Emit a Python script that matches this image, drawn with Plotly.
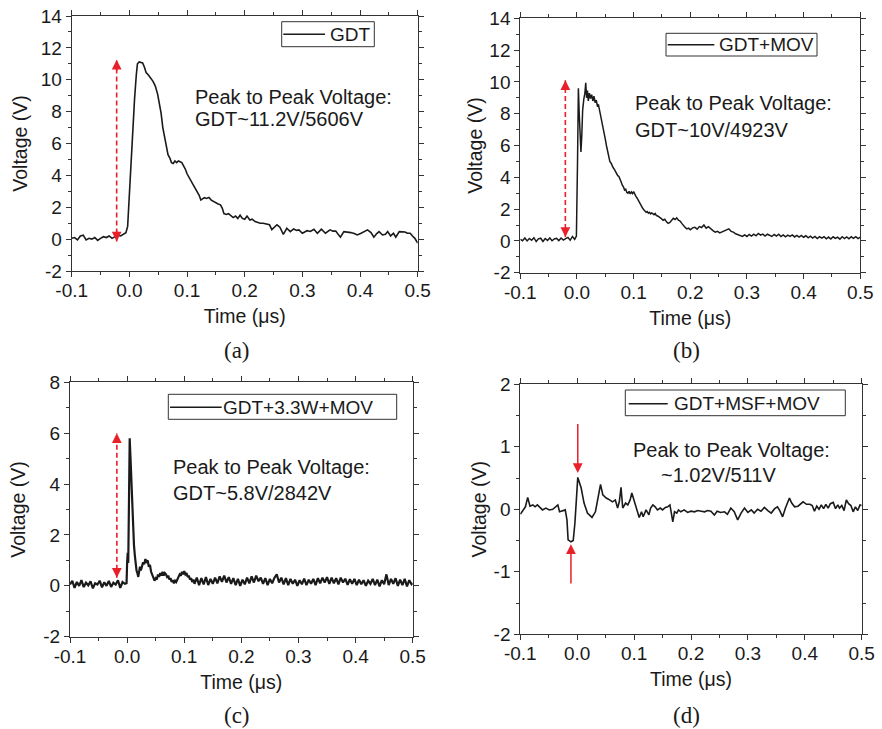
import plotly.graph_objects as go

# ---------------- data ----------------
a_time = [-0.100,-0.095,-0.090,-0.085,-0.080,-0.075,-0.070,-0.065,-0.060,-0.055,
          -0.050,-0.045,-0.040,-0.035,-0.030,-0.025,-0.020,-0.015,-0.010,-0.006,
          -0.003,0.000,0.003,0.006,0.009,0.012,0.014,0.017,0.020,0.023,
          0.026,0.029,0.033,0.037,0.041,0.045,0.049,0.052,0.055,0.058,
          0.061,0.064,0.067,0.070,0.073,0.076,0.079,0.082,0.085,0.088,
          0.091,0.094,0.097,0.100,0.103,0.106,0.109,0.112,0.115,0.118,
          0.121,0.124,0.127,0.130,0.134,0.138,0.142,0.146,0.150,0.154,
          0.158,0.161,0.164,0.168,0.172,0.176,0.180,0.184,0.188,0.192,
          0.196,0.200,0.204,0.209,0.213,0.218,0.222,0.227,0.232,0.238,
          0.243,0.247,0.251,0.256,0.261,0.267,0.273,0.279,0.285,0.290,
          0.294,0.300,0.304,0.308,0.314,0.320,0.326,0.333,0.340,0.348,
          0.353,0.358,0.362,0.366,0.372,0.378,0.384,0.390,0.395,0.401,
          0.407,0.413,0.419,0.424,0.429,0.433,0.439,0.444,0.448,0.453,
          0.458,0.462,0.468,0.474,0.478,0.482,0.487,0.491,0.495,0.500]
a_volt = [0.05,0.10,-0.05,0.20,0.25,-0.05,0.05,0.00,0.10,-0.08,
          0.05,0.15,0.10,0.20,0.05,0.15,0.25,0.20,0.30,0.40,
          0.80,2.80,5.20,7.20,8.80,10.30,11.00,11.12,11.10,11.05,
          10.80,10.45,10.30,10.10,9.90,9.60,9.10,8.50,7.90,7.00,
          6.40,5.80,5.30,5.10,4.80,4.75,4.90,4.80,4.90,4.85,
          4.80,4.60,4.40,4.10,3.90,3.70,3.50,3.30,3.10,2.90,
          2.75,2.45,2.50,2.60,2.55,2.62,2.45,2.35,2.30,2.20,
          2.15,1.95,1.60,1.55,1.60,1.45,1.35,1.45,1.30,1.50,
          1.30,1.25,1.45,1.20,1.25,1.10,1.05,1.00,1.00,0.95,
          0.90,0.60,0.75,0.90,0.75,0.30,0.68,0.47,0.64,0.55,
          0.58,0.37,0.45,0.53,0.48,0.62,0.37,0.62,0.37,0.58,
          0.50,0.51,0.30,0.12,0.47,0.45,0.41,0.35,0.26,0.35,
          0.47,0.58,0.41,0.12,0.35,0.47,0.26,0.30,0.47,0.20,
          0.37,0.12,0.47,0.47,0.45,0.37,0.37,0.20,0.05,-0.25]

b_time = [-0.100,-0.096,-0.092,-0.088,-0.084,-0.080,-0.076,-0.072,-0.068,-0.064,
          -0.060,-0.056,-0.052,-0.048,-0.044,-0.040,-0.036,-0.032,-0.028,-0.024,
          -0.020,-0.016,-0.012,-0.008,-0.004,-0.001,0.001,0.0025,0.004,0.0055,
          0.007,0.0085,0.010,0.012,0.014,0.0155,0.017,0.0185,0.020,0.022,
          0.024,0.026,0.028,0.030,0.032,0.034,0.036,0.038,0.040,0.042,
          0.044,0.046,0.048,0.050,0.052,0.054,0.056,0.058,0.060,0.062,
          0.064,0.066,0.068,0.070,0.072,0.074,0.076,0.078,0.080,0.082,
          0.084,0.086,0.088,0.090,0.092,0.094,0.096,0.098,0.100,0.102,
          0.104,0.106,0.108,0.110,0.112,0.114,0.116,0.118,0.120,0.122,
          0.124,0.126,0.128,0.130,0.132,0.134,0.136,0.138,0.140,0.143,
          0.146,0.149,0.152,0.155,0.158,0.161,0.164,0.167,0.170,0.173,
          0.176,0.179,0.182,0.185,0.188,0.191,0.194,0.197,0.200,0.204,
          0.208,0.212,0.216,0.220,0.224,0.228,0.232,0.236,0.240,0.244,
          0.248,0.252,0.256,0.260,0.264,0.268,0.272,0.276,0.280,0.284,
          0.288,0.292,0.296,0.300,0.304,0.308,0.312,0.316,0.320,0.324,
          0.328,0.332,0.336,0.340,0.344,0.348,0.352,0.356,0.360,0.364,
          0.368,0.372,0.376,0.380,0.384,0.388,0.392,0.396,0.400,0.404,
          0.408,0.412,0.416,0.420,0.424,0.428,0.432,0.436,0.440,0.444,
          0.448,0.452,0.456,0.460,0.464,0.468,0.472,0.476,0.480,0.484,
          0.488,0.492,0.496,0.500]
b_volt = [0.10,0.01,0.18,0.00,0.15,0.04,0.20,-0.04,0.13,0.17,
          -0.03,0.15,0.03,0.19,0.01,0.12,0.16,0.02,0.18,0.05,
          0.14,0.22,0.04,0.28,0.10,0.30,5.00,9.60,8.00,6.20,
          5.60,6.60,8.20,8.90,9.30,9.95,9.00,9.45,8.80,9.30,
          8.95,9.20,8.80,9.10,8.70,8.85,8.50,8.55,8.20,8.00,
          7.60,7.20,6.80,6.40,6.00,5.60,5.30,5.00,4.90,4.70,
          4.60,4.50,4.35,4.25,4.10,4.05,3.80,3.70,3.50,3.40,
          3.20,3.25,3.05,3.00,3.12,2.95,3.08,2.98,3.10,2.90,
          2.80,2.70,2.55,2.40,2.30,2.15,2.05,1.95,1.88,1.80,
          1.85,1.74,1.80,1.70,1.76,1.68,1.65,1.72,1.60,1.55,
          1.50,1.40,1.30,1.36,1.20,1.10,1.16,1.30,1.42,1.35,
          1.45,1.30,1.25,1.10,0.95,0.85,0.75,0.80,0.70,0.82,
          0.86,0.74,0.90,0.84,1.00,0.80,0.90,0.74,0.65,0.55,
          0.60,0.50,0.56,0.62,0.70,0.76,0.60,0.55,0.45,0.40,
          0.35,0.28,0.38,0.28,0.40,0.30,0.42,0.32,0.47,0.36,
          0.43,0.31,0.42,0.33,0.28,0.40,0.30,0.42,0.27,0.38,
          0.26,0.36,0.28,0.38,0.25,0.35,0.24,0.34,0.23,0.32,
          0.19,0.30,0.18,0.28,0.15,0.27,0.18,0.26,0.13,0.24,
          0.12,0.26,0.16,0.24,0.11,0.26,0.15,0.25,0.13,0.26,
          0.16,0.27,0.15,0.24]

c_time = [-0.100,-0.096,-0.092,-0.088,-0.084,-0.080,-0.076,-0.072,-0.068,-0.064,
          -0.060,-0.056,-0.052,-0.048,-0.044,-0.040,-0.036,-0.032,-0.028,-0.024,
          -0.020,-0.016,-0.012,-0.008,-0.004,-0.001,0.000,0.001,0.002,0.003,
          0.0045,0.006,0.0075,0.009,0.0105,0.012,0.0135,0.015,0.0165,0.018,
          0.0195,0.021,0.0225,0.024,0.026,0.028,0.030,0.032,0.034,0.036,
          0.038,0.040,0.042,0.044,0.046,0.048,0.050,0.052,0.054,0.056,
          0.058,0.060,0.062,0.064,0.066,0.068,0.070,0.072,0.074,0.076,
          0.078,0.080,0.082,0.084,0.086,0.088,0.090,0.092,0.094,0.096,
          0.098,0.100,0.102,0.104,0.106,0.108,0.110,0.112,0.114,0.116,
          0.118,0.122,0.126,0.130,0.134,0.138,0.142,0.146,0.150,0.154,
          0.158,0.162,0.166,0.170,0.174,0.178,0.182,0.186,0.190,0.194,
          0.198,0.202,0.206,0.210,0.214,0.218,0.222,0.226,0.230,0.234,
          0.238,0.242,0.246,0.250,0.254,0.258,0.262,0.266,0.270,0.274,
          0.278,0.282,0.286,0.290,0.294,0.298,0.302,0.306,0.310,0.314,
          0.318,0.322,0.326,0.330,0.334,0.338,0.342,0.346,0.350,0.354,
          0.358,0.362,0.366,0.370,0.374,0.378,0.382,0.386,0.390,0.394,
          0.398,0.402,0.406,0.410,0.414,0.418,0.422,0.426,0.430,0.434,
          0.438,0.442,0.446,0.450,0.454,0.458,0.462,0.466,0.470,0.474,
          0.478,0.482,0.486,0.490,0.494,0.498,0.500]
c_volt = [0.05,0.20,-0.08,0.15,0.00,0.22,-0.05,0.12,0.02,0.18,
          -0.10,0.10,0.05,0.20,-0.06,0.14,0.00,0.19,-0.04,0.12,
          0.05,0.22,-0.08,0.15,0.08,0.10,0.90,1.30,0.90,3.00,
          5.80,5.00,4.00,3.20,2.30,1.60,1.20,0.85,0.60,0.50,
          0.35,0.55,0.75,0.60,0.82,0.92,0.85,1.05,0.95,1.00,
          0.75,0.82,0.55,0.45,0.30,0.20,0.30,0.25,0.45,0.35,
          0.50,0.40,0.55,0.40,0.50,0.45,0.35,0.40,0.25,0.30,
          0.15,0.22,0.10,0.20,0.15,0.30,0.35,0.45,0.40,0.55,
          0.45,0.58,0.45,0.50,0.35,0.40,0.25,0.30,0.15,0.25,
          0.08,0.32,0.03,0.30,0.06,0.34,0.03,0.27,0.08,0.32,
          0.10,0.37,0.16,0.40,0.13,0.34,0.08,0.30,0.03,0.27,
          0.00,0.24,0.06,0.32,0.10,0.37,0.13,0.40,0.18,0.32,
          0.08,0.30,0.03,0.27,0.10,0.32,0.45,0.13,0.32,0.06,
          0.30,0.03,0.27,0.08,0.24,0.00,0.22,0.06,0.28,0.03,
          0.24,0.08,0.27,0.03,0.30,0.10,0.32,0.13,0.34,0.08,
          0.32,0.10,0.30,0.06,0.32,0.13,0.28,0.04,0.26,0.08,
          0.27,0.03,0.24,0.06,0.22,0.00,0.20,0.08,0.27,0.03,
          0.24,-0.02,0.22,0.06,0.45,0.03,0.27,0.08,0.30,0.00,
          0.24,0.03,0.27,-0.02,0.22,0.06,0.10]

d_time = [-0.100,-0.095,-0.091,-0.087,-0.083,-0.078,-0.074,-0.070,-0.065,-0.061,
          -0.055,-0.049,-0.043,-0.037,-0.034,-0.031,-0.026,-0.021,-0.018,-0.016,
          -0.011,-0.007,-0.004,0.001,0.007,0.012,0.018,0.026,0.032,0.038,
          0.041,0.045,0.051,0.057,0.062,0.067,0.071,0.074,0.077,0.080,
          0.085,0.089,0.093,0.096,0.100,0.105,0.109,0.113,0.116,0.121,
          0.126,0.129,0.133,0.137,0.141,0.146,0.150,0.155,0.159,0.163,
          0.168,0.171,0.175,0.178,0.182,0.188,0.194,0.200,0.206,0.212,
          0.218,0.224,0.229,0.235,0.241,0.246,0.252,0.259,0.264,0.270,
          0.276,0.282,0.288,0.294,0.300,0.306,0.311,0.317,0.323,0.329,
          0.335,0.341,0.347,0.352,0.356,0.361,0.366,0.370,0.373,0.377,
          0.382,0.388,0.393,0.397,0.403,0.409,0.413,0.417,0.421,0.425,
          0.429,0.433,0.437,0.441,0.445,0.450,0.454,0.458,0.461,0.465,
          0.469,0.473,0.477,0.481,0.485,0.489,0.493,0.497,0.500]
d_volt = [-0.08,-0.02,0.04,0.19,0.05,0.07,0.04,0.07,0.02,-0.01,
          0.02,-0.01,0.00,0.04,0.07,-0.04,-0.02,-0.01,-0.17,-0.49,
          -0.52,-0.50,-0.22,0.51,0.34,0.10,-0.06,-0.13,-0.04,0.26,
          0.40,0.23,0.18,0.15,0.12,0.15,0.02,0.12,0.35,0.02,
          0.10,0.07,0.15,0.26,0.12,-0.01,-0.13,-0.04,-0.12,-0.01,
          -0.09,0.02,0.07,0.04,-0.01,0.02,-0.01,0.03,0.04,0.07,
          -0.20,-0.04,-0.06,-0.01,-0.04,-0.01,-0.05,-0.03,-0.04,-0.02,
          -0.03,-0.04,-0.02,-0.03,-0.09,-0.03,-0.05,-0.04,-0.08,0.02,
          -0.04,-0.17,-0.06,0.02,-0.05,-0.01,-0.06,0.00,-0.03,0.03,
          -0.02,-0.06,0.01,0.04,-0.02,-0.12,0.02,0.12,0.18,0.10,
          0.04,0.05,0.09,0.12,0.08,0.08,0.06,-0.03,0.05,0.00,
          0.07,0.01,0.08,0.02,0.09,0.11,0.01,0.07,0.02,0.06,
          -0.02,0.15,0.09,0.06,-0.04,0.04,-0.02,0.07,0.06]

series_names = ["GDT", "GDT+MOV", "GDT+3.3W+MOV", "GDT+MSF+MOV"]
panel_labels = ["(a)", "(b)", "(c)", "(d)"]
note_line1 = ["Peak to Peak Voltage:", "Peak to Peak Voltage:", "Peak to Peak Voltage:", "Peak to Peak Voltage:"]
note_line2 = ["GDT~11.2V/5606V", "GDT~10V/4923V", "GDT~5.8V/2842V", "~1.02V/511V"]

x_tick_vals = [-0.1, 0.0, 0.1, 0.2, 0.3, 0.4, 0.5]
x_tick_text = ["-0.1", "0.0", "0.1", "0.2", "0.3", "0.4", "0.5"]
y_tick_vals_ab = [-2, 0, 2, 4, 6, 8, 10, 12, 14]
y_tick_text_ab = ["-2", "0", "2", "4", "6", "8", "10", "12", "14"]
y_tick_vals_c = [-2, 0, 2, 4, 6, 8]
y_tick_text_c = ["-2", "0", "2", "4", "6", "8"]
y_tick_vals_d = [-2, -1, 0, 1, 2]
y_tick_text_d = ["-2", "-1", "0", "1", "2"]

# peak-to-peak marker arrows (time, low, high)
pp_arrow_a = (-0.022, -0.15, 11.25)
pp_arrow_b = (-0.0205, 0.24, 10.1)
pp_arrow_c = (-0.018, 0.32, 6.0)
# panel (d): (time, tail, tip)
d_arrow_top = (0.001, 1.39, 0.58)
d_arrow_bottom = (-0.011, -1.21, -0.56)

# ---------------- style / layout helpers ----------------
SANS = "Liberation Sans, Arial, sans-serif"
SERIF = "Liberation Serif, Times New Roman, serif"
AX = "#333333"
TXT = "#1a1a1a"
RED = "#e8202a"
W, H = 882, 729

def px_x(p):
    return p / W

def px_y(p):
    return 1 - p / H

panels = [
    dict(xd=(71.7, 417.7), yd=(16.0, 271.0)),
    dict(xd=(520.3, 860.3), yd=(18.3, 272.7)),
    dict(xd=(70.0, 412.7), yd=(382.3, 636.7)),
    dict(xd=(520.3, 861.7), yd=(384.3, 634.3)),
]
yranges = [[-2, 14], [-2, 14], [-2, 8], [-2, 2]]
yticks = [(y_tick_vals_ab, y_tick_text_ab), (y_tick_vals_ab, y_tick_text_ab),
          (y_tick_vals_c, y_tick_text_c), (y_tick_vals_d, y_tick_text_d)]
yminor = [1, 1, 1, 0.5]
ytitle_standoff = [7, 1, 12, 1]

fig = go.Figure()

datasets = [(a_time, a_volt, 1.6), (b_time, b_volt, 1.5), (c_time, c_volt, 2.2), (d_time, d_volt, 1.6)]
for i, (t, v, lw) in enumerate(datasets):
    k = "" if i == 0 else str(i + 1)
    fig.add_trace(go.Scatter(x=t, y=v, mode="lines", name=series_names[i],
                             line=dict(color="#1a1a1a", width=lw),
                             xaxis="x" + k, yaxis="y" + k, showlegend=False))

layout = dict(width=W, height=H, margin=dict(l=0, r=0, t=0, b=0),
              paper_bgcolor="white", plot_bgcolor="white", showlegend=False)

tickfont = dict(family=SANS, size=19, color=TXT)
titlefont = dict(family=SANS, size=19.5, color=TXT)

for i, p in enumerate(panels):
    k = "" if i == 0 else str(i + 1)
    xd = [px_x(p["xd"][0]), px_x(p["xd"][1])]
    yd = [px_y(p["yd"][1]), px_y(p["yd"][0])]
    layout["xaxis" + k] = dict(
        domain=xd, anchor="y" + k, range=[-0.1, 0.5],
        tickmode="array", tickvals=x_tick_vals, ticktext=x_tick_text,
        ticks="outside", ticklen=5, tickwidth=1, tickcolor=AX,
        minor=dict(ticks="outside", ticklen=3, tickwidth=1, tickcolor=AX,
                   tickmode="linear", tick0=-0.1, dtick=0.05),
        showline=True, linecolor=AX, linewidth=1, mirror="ticks",
        showgrid=False, zeroline=False, tickfont=tickfont,
        ticklabeloverflow="allow", ticklabelstandoff=-3,
        title=dict(text="Time (μs)", font=titlefont, standoff=9),
        automargin=False)
    tv, tt = yticks[i]
    layout["yaxis" + k] = dict(
        domain=yd, anchor="x" + k, range=yranges[i],
        tickmode="array", tickvals=tv, ticktext=tt,
        ticks="outside", ticklen=5, tickwidth=1, tickcolor=AX,
        minor=dict(ticks="outside", ticklen=3, tickwidth=1, tickcolor=AX,
                   tickmode="linear", tick0=yranges[i][0], dtick=yminor[i]),
        showline=True, linecolor=AX, linewidth=1, mirror="ticks",
        showgrid=False, zeroline=False, tickfont=tickfont,
        ticklabeloverflow="allow",
        title=dict(text="Voltage (V)", font=titlefont, standoff=ytitle_standoff[i]),
        automargin=False)

fig.update_layout(**layout)

annotations = []
shapes = []

# legend boxes: (box left, box top, box right, box bottom, line x0, line x1, text x, center y)
legend_boxes = [(281.7, 21.7, 374.3, 46.7, 283.3, 325.0, 328.0, 34.2),
                (666.0, 33.3, 817.0, 56.0, 667.7, 714.3, 717.0, 44.7),
                (168.3, 394.3, 396.7, 419.3, 170.0, 221.7, 220.5, 407.3),
                (625.3, 390.0, 845.3, 415.7, 628.7, 667.7, 671.5, 403.8)]
for i, (x0, y0, x1, y1, lx0, lx1, tx, cy) in enumerate(legend_boxes):
    shapes.append(dict(type="rect", xref="paper", yref="paper",
                       x0=px_x(x0), x1=px_x(x1), y0=px_y(y1), y1=px_y(y0),
                       line=dict(color=AX, width=1), fillcolor="white", layer="above"))
    shapes.append(dict(type="line", xref="paper", yref="paper",
                       x0=px_x(lx0), x1=px_x(lx1), y0=px_y(cy), y1=px_y(cy),
                       line=dict(color="#1a1a1a", width=1.6), layer="above"))
    annotations.append(dict(x=px_x(tx), y=px_y(cy), xref="paper", yref="paper",
                            text=series_names[i], showarrow=False,
                            xanchor="left", yanchor="middle",
                            font=dict(family=SANS, size=19, color=TXT)))

# notes
note_pos = [((0.111, 8.94), (0.111, 7.52)),
            ((0.0994, 8.67), (0.0994, 6.97)),
            ((0.0763, 4.68), (0.0763, 3.64)),
            ((0.0946, 0.95), (0.1443, 0.55))]
for i, ((x1, y1), (x2, y2)) in enumerate(note_pos):
    k = "" if i == 0 else str(i + 1)
    for (xx, yy, txt) in [(x1, y1, note_line1[i]), (x2, y2, note_line2[i])]:
        annotations.append(dict(x=xx, y=yy, xref="x" + k, yref="y" + k, text=txt,
                                showarrow=False, xanchor="left", yanchor="middle",
                                font=dict(family=SANS, size=20, color=TXT)))

# panel labels
label_pos = [(237, 351), (686, 350), (237, 715), (686, 715)]
for i, (lx, ly) in enumerate(label_pos):
    annotations.append(dict(x=px_x(lx), y=px_y(ly), xref="paper", yref="paper",
                            text=panel_labels[i], showarrow=False,
                            xanchor="center", yanchor="middle",
                            font=dict(family=SERIF, size=23, color=TXT)))

# dashed double arrows
for i, (t, lo, hi) in enumerate([pp_arrow_a, pp_arrow_b, pp_arrow_c]):
    k = "" if i == 0 else str(i + 1)
    fig.add_trace(go.Scatter(x=[t, t], y=[lo, hi], mode="lines",
                             line=dict(color=RED, width=1.6, dash="5px,3px"),
                             xaxis="x" + k, yaxis="y" + k, showlegend=False,
                             hoverinfo="skip"))
    span = hi - lo
    for tip, tail in [(hi, hi - span * 0.07), (lo, lo + span * 0.07)]:
        annotations.append(dict(x=t, y=tip, ax=t, ay=tail, xref="x" + k, yref="y" + k,
                                axref="x" + k, ayref="y" + k, showarrow=True,
                                arrowhead=2, arrowsize=1.3, arrowwidth=1.5,
                                arrowcolor=RED, text="", standoff=0))

# solid arrows in (d)
for (t, tail, tip) in [d_arrow_top, d_arrow_bottom]:
    annotations.append(dict(x=t, y=tip, ax=t, ay=tail, xref="x4", yref="y4",
                            axref="x4", ayref="y4", showarrow=True,
                            arrowhead=2, arrowsize=1.3, arrowwidth=1.5,
                            arrowcolor=RED, text="", standoff=0))

fig.update_layout(annotations=annotations, shapes=shapes)
# remove the default 8px page margin so the 882x729 figure fills the window exactly
fig.write_html("out.html", config={"displayModeBar": False},
               post_script="document.body.style.margin='0px';")
